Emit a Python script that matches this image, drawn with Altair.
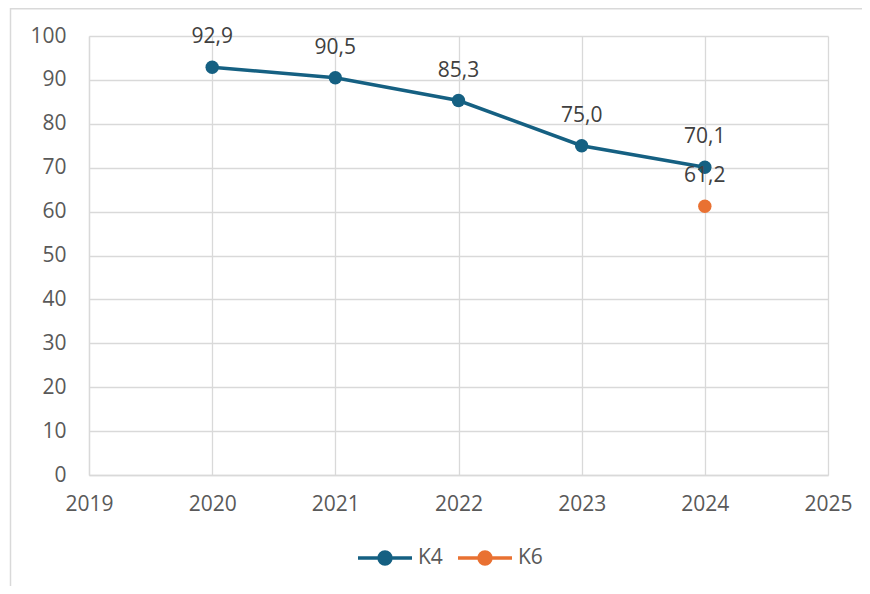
import altair as alt
import pandas as pd

years = [2020, 2021, 2022, 2023, 2024]
k4_values = [92.9, 90.5, 85.3, 75.0, 70.1]
k6_years = [2024]
k6_values = [61.2]
series_names = ["K4", "K6"]
series_colors = ["#156082", "#E97132"]
x_ticks = [2019, 2020, 2021, 2022, 2023, 2024, 2025]
y_ticks = [0, 10, 20, 30, 40, 50, 60, 70, 80, 90, 100]

rows = []
for y, v in zip(years, k4_values):
    rows.append({"series": "K4", "year": y, "value": v})
for y, v in zip(k6_years, k6_values):
    rows.append({"series": "K6", "year": y, "value": v})
df = pd.DataFrame(rows)
df["label"] = df["value"].map(lambda v: f"{v:.1f}".replace(".", ","))

FONT = "Open Sans"
FS = 21
GRID = "#D9D9D9"

# legend symbol: short line with a dot in the middle
sym_path = ("M-1,0L1,0M-0.22,0A0.22,0.22,0,1,1,0.22,0"
            "A0.22,0.22,0,1,1,-0.22,0Z")

x_enc = alt.X("year:Q", scale=alt.Scale(domain=[2019, 2025], nice=False, zero=False),
              axis=alt.Axis(values=x_ticks, format="d", title=None, labelPadding=18,
                            labelFlush=False))
y_enc = alt.Y("value:Q", scale=alt.Scale(domain=[0, 100], nice=False),
              axis=alt.Axis(values=y_ticks, title=None, labelPadding=23))

series_scale = alt.Scale(domain=series_names, range=series_colors)


def legend():
    return alt.Legend(
        title=None, orient="none", direction="horizontal",
        legendX=267, legendY=493,
        symbolType=sym_path, symbolSize=2916, symbolStrokeWidth=3.5,
        symbolOpacity=1,
        labelFont=FONT, labelFontSize=FS, labelColor="#595959",
        labelOffset=4, columnPadding=8,
    )


base = alt.Chart(df)

lines = base.mark_line(strokeWidth=3.5).encode(
    x=x_enc, y=y_enc,
    stroke=alt.Stroke("series:N", scale=series_scale, legend=legend()),
)

points = base.mark_point(filled=True, size=180, opacity=1, strokeWidth=0).encode(
    x="year:Q", y="value:Q",
    fill=alt.Fill("series:N", scale=series_scale, legend=legend()),
    stroke=alt.Stroke("series:N", scale=series_scale, legend=legend()),
)

labels = base.mark_text(dy=-30, fontSize=FS, font=FONT, color="#404040").encode(
    x="year:Q", y="value:Q", text="label:N"
)

frame_data = alt.Data(values=[{"k": 1}])
frame = alt.Chart(frame_data).mark_rect(
    fill="transparent", stroke=GRID, strokeWidth=1.5
).encode(
    x=alt.value(-78.5), x2=alt.value(900), y=alt.value(-27.2), y2=alt.value(700)
)

chart = alt.layer(frame, lines, points, labels).properties(
    width=739, height=439,
    autosize=alt.AutoSizeParams(type="none"),
    padding={"left": 81, "top": 28, "right": 34, "bottom": 111},
    background="white",
).configure_view(stroke=None).configure_axis(
    gridColor=GRID, gridWidth=1.3, domainColor=GRID, domainWidth=1.3,
    ticks=False, labelFont=FONT, labelFontSize=FS, labelColor="#595959",
)

chart.save("out.html", embed_options={"renderer": "svg", "actions": False})
